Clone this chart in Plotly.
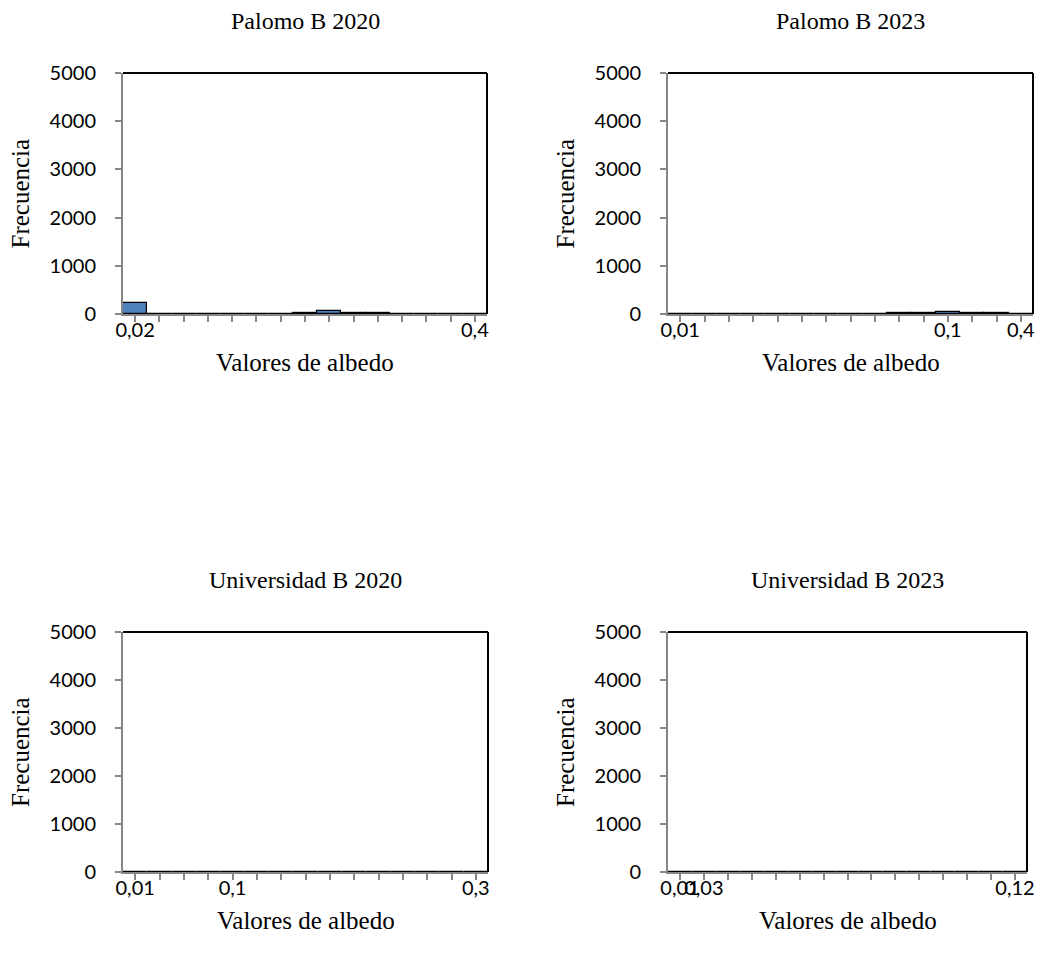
import plotly.graph_objects as go

# ---- data ----
titles = ["Palomo B 2020", "Palomo B 2023", "Universidad B 2020", "Universidad B 2023"]
bins = list(range(15))
labels_pb2020 = ["0,02", "", "", "", "", "", "", "", "", "", "", "", "", "", "0,4"]
labels_pb2023 = ["0,01", "", "", "", "", "", "", "", "", "", "", "0,1", "", "", "0,4"]
labels_ub2020 = ["0,01", "", "", "", "0,1", "", "", "", "", "", "", "", "", "", "0,3"]
labels_ub2023 = ["0,01", "0,03", "", "", "", "", "", "", "", "", "", "", "", "", "0,12"]
freq_pb2020 = [235, 0, 0, 0, 0, 3, 6, 25, 70, 30, 15, 5, 2, 3, 5]
freq_pb2023 = [0, 0, 0, 2, 2, 2, 2, 2, 2, 15, 20, 40, 20, 12, 0]
freq_ub2020 = [0, 0, 3, 3, 3, 0, 1, 0, 0, 0, 0, 0, 3, 3, 0]
freq_ub2023 = [0, 0, 0, 0, 0, 0, 0, 0, 0, 0, 0, 0, 0, 2, 2]
y_ticks = [0, 1000, 2000, 3000, 4000, 5000]

OFF = 8  # page body margin
W, H = 1044 - OFF, 964 - OFF
panels = [
    (freq_pb2020, labels_pb2020, (123, 487), (73, 314)),
    (freq_pb2023, labels_pb2023, (668, 1033), (73, 314)),
    (freq_ub2020, labels_ub2020, (123, 488), (632, 872)),
    (freq_ub2023, labels_ub2023, (668, 1027), (632, 872)),
]

fig = go.Figure()
layout = dict(width=W, height=H, margin=dict(l=0, r=0, t=0, b=0, autoexpand=False),
              paper_bgcolor="white", plot_bgcolor="white", showlegend=False,
              bargap=0, annotations=[], shapes=[])
gray = "#868686"
tickfont = dict(family="Lato", size=20, color="black")
serif = "Liberation Serif"

for i, (freq, labs, (x0, x1), (y0, y1)) in enumerate(panels):
    x0, x1, y0, y1 = x0 - OFF, x1 - OFF, y0 - OFF, y1 - OFF
    n = "" if i == 0 else str(i + 1)
    xa, ya = "x" + n, "y" + n
    fig.add_trace(go.Bar(x=bins, y=freq, xaxis=xa, yaxis=ya, width=1,
                         marker=dict(color="#4F81BD", line=dict(color="black", width=1.2))))
    dx = [x0 / W, x1 / W]
    dy = [1 - y1 / H, 1 - y0 / H]
    layout["xaxis" + n] = dict(domain=dx, anchor=ya, range=[-0.5, 14.5], automargin=False,
                               tickmode="array", tickvals=bins, ticktext=labs,
                               tickangle=0, ticks="outside", ticklen=6, tickcolor=gray,
                               tickwidth=1.5, showline=True, linecolor=gray, linewidth=2,
                               showgrid=False, zeroline=False, tickfont=tickfont,
                               ticklabelstandoff=-9, fixedrange=True)
    layout["yaxis" + n] = dict(domain=dy, anchor=xa, range=[0, 5000], automargin=False,
                               tickmode="array", tickvals=y_ticks,
                               ticktext=[str(v) for v in y_ticks],
                               ticks="outside", ticklen=6, tickcolor=gray, tickwidth=1.5,
                               showline=True, linecolor=gray, linewidth=2,
                               showgrid=False, zeroline=False, tickfont=tickfont,
                               ticklabelstandoff=15, fixedrange=True)
    # top & right frame (black)
    layout["shapes"].append(dict(type="line", xref=xa + " domain", yref=ya + " domain",
                                 x0=0, x1=1, y0=1, y1=1, line=dict(color="black", width=2)))
    layout["shapes"].append(dict(type="line", xref=xa + " domain", yref=ya + " domain",
                                 x0=1, x1=1, y0=0, y1=1, line=dict(color="black", width=2)))
    cx = (x0 + x1) / 2 / W
    # chart title
    layout["annotations"].append(dict(text=titles[i], xref="paper", yref="paper",
                                      x=cx, y=1 - (y0 - 52) / H, xanchor="center", yanchor="middle",
                                      showarrow=False, font=dict(family=serif, size=24, color="black")))
    # x axis title
    layout["annotations"].append(dict(text="Valores de albedo", xref="paper", yref="paper",
                                      x=cx, y=1 - (y1 + 48) / H, xanchor="center", yanchor="middle",
                                      showarrow=False, font=dict(family=serif, size=25, color="black")))
    # y axis title
    layout["annotations"].append(dict(text="Frecuencia", xref="paper", yref="paper",
                                      x=(x0 - 103) / W, y=1 - (y0 + y1) / 2 / H,
                                      xanchor="center", yanchor="middle", textangle=-90,
                                      showarrow=False, font=dict(family=serif, size=25, color="black")))

fig.update_layout(**layout)
fig.write_html("out.html")
